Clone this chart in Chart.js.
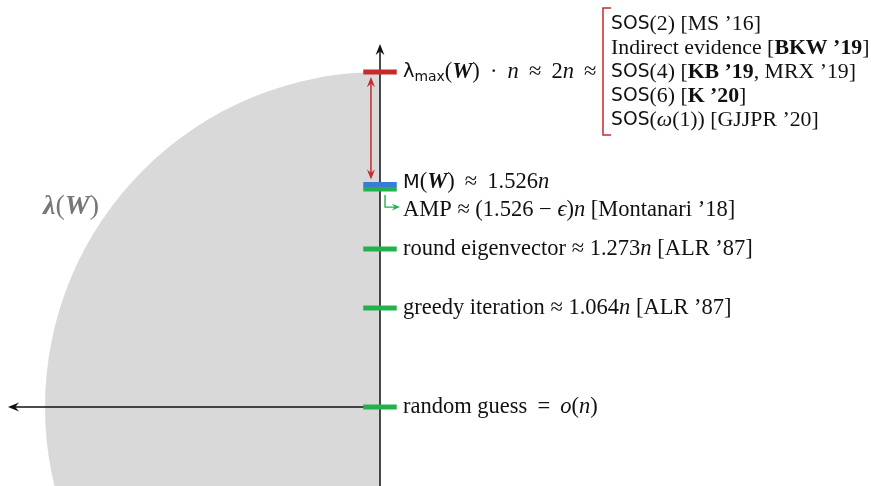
<!DOCTYPE html>
<html>
<head>
<meta charset="utf-8">
<script src="https://cdn.jsdelivr.net/npm/chart.js@4.4.1/dist/chart.umd.min.js"></script>
<style>
  body { margin: 0; background: #fff; }
  #wrap { width: 871px; height: 486px; }
</style>
</head>
<body>
<div id="wrap"><canvas id="mcChart" width="871" height="486"></canvas></div>
<script>
// schematic heights of each algorithm / bound on the vertical axis
const markNames = ['lambdaMax', 'M(W)', 'AMP', 'round eigenvector', 'greedy iteration', 'random guess'];
const markLevels = [2.0, 1.328, 1.301, 0.943, 0.591, 0.0];
const markColors = ['#c62a2a', '#3a7bd5', '#22b14c', '#22b14c', '#22b14c', '#22b14c'];

// semicircle law: spectrum support (left half is drawn)
const diskCenter = [0, 0];
const diskRadius = 2.0;

const TS = '\u2009'; // thin space, for math spacing

const sosLines = [
    [['SOS', 'sans'], ['(2) [MS \u201916]', 'serif']],
    [['Indirect evidence [', 'serif'], ['BKW \u201919', 'bold'], [']', 'serif']],
    [['SOS', 'sans'], ['(4) [', 'serif'], ['KB \u201919', 'bold'], [', MRX \u201919]', 'serif']],
    [['SOS', 'sans'], ['(6) [', 'serif'], ['K \u201920', 'bold'], [']', 'serif']],
    [['SOS', 'sans'], ['(', 'serif'], ['\u03c9', 'ital'], ['(1)) [GJJPR \u201920]', 'serif']]
];

const markLabels = [
    [['\u03bb', 'sans'], ['max', 'sub', 5], ['(', 'serif'], ['W', 'bi'], [')' + TS + ' \u00b7 ' + TS, 'serif'], ['n', 'ital'], [TS + ' \u2248 ' + TS + '2', 'serif'], ['n', 'ital'], [TS + ' \u2248', 'serif']],
    [['M', 'sans'], ['(', 'serif'], ['W', 'bi'], [')' + TS + ' \u2248 ' + TS + '1.526', 'serif'], ['n', 'ital']],
    [['AMP \u2248 (1.526 \u2212 ', 'serif'], ['\u03f5', 'ital'], [')', 'serif'], ['n', 'ital'], [' [Montanari \u201918]', 'serif']],
    [['round eigenvector \u2248 1.273', 'serif'], ['n', 'ital'], [' [ALR \u201987]', 'serif']],
    [['greedy iteration \u2248 1.064', 'serif'], ['n', 'ital'], [' [ALR \u201987]', 'serif']],
    [['random guess' + TS + ' = ' + TS, 'serif'], ['o', 'ital'], ['(', 'serif'], ['n', 'ital'], [')', 'serif']]
];

const markHalf = 0.1;

function fontFor(kind, size) {
    switch (kind) {
        case 'ital': return 'italic ' + size + 'px "Liberation Serif"';
        case 'bold': return 'bold ' + size + 'px "Liberation Serif"';
        case 'bi': return 'bold italic ' + size + 'px "Liberation Serif"';
        case 'sans': return (size * 0.86) + 'px "DejaVu Sans"';
        case 'sub': return (size * 0.62) + 'px "DejaVu Sans"';
        default: return size + 'px "Liberation Serif"';
    }
}

function drawRich(ctx, x, y, segs, size, color) {
    ctx.save();
    ctx.textBaseline = 'middle';
    ctx.textAlign = 'left';
    ctx.fillStyle = color || '#111';
    segs.forEach(s => {
        ctx.font = fontFor(s[1], size);
        ctx.fillText(s[0], x, y + (s[2] || 0));
        x += ctx.measureText(s[0]).width;
    });
    ctx.restore();
    return x;
}

function arrowHead(ctx, x, y, ang, size) {
    ctx.beginPath();
    ctx.moveTo(x, y);
    ctx.lineTo(x - size * Math.cos(ang - 0.38), y - size * Math.sin(ang - 0.38));
    ctx.lineTo(x - size * 0.6 * Math.cos(ang), y - size * 0.6 * Math.sin(ang));
    ctx.lineTo(x - size * Math.cos(ang + 0.38), y - size * Math.sin(ang + 0.38));
    ctx.closePath();
    ctx.fill();
}

const diagramPlugin = {
    id: 'diagram',
    beforeDatasetsDraw(chart) {
        const ctx = chart.ctx;
        const xs = chart.scales.x, ys = chart.scales.y;
        const cx = xs.getPixelForValue(diskCenter[0]);
        const cy = ys.getPixelForValue(diskCenter[1]);
        const r = xs.getPixelForValue(diskRadius) - cx;
        ctx.save();
        ctx.fillStyle = '#d9d9d9';
        ctx.beginPath();
        ctx.moveTo(cx, cy);
        ctx.arc(cx, cy, r, Math.PI / 2, Math.PI * 1.5);
        ctx.closePath();
        ctx.fill();
        ctx.restore();

        // axes
        const ox = xs.getPixelForValue(0), oy = ys.getPixelForValue(0);
        const topY = ys.getPixelForValue(2.167);
        const leftX = xs.getPixelForValue(-2.221);
        ctx.save();
        ctx.strokeStyle = '#111';
        ctx.fillStyle = '#111';
        ctx.lineWidth = 1.5;
        ctx.beginPath();
        ctx.moveTo(ox, chart.height);
        ctx.lineTo(ox, topY + 4);
        ctx.moveTo(ox, oy);
        ctx.lineTo(leftX + 4, oy);
        ctx.stroke();
        arrowHead(ctx, ox, topY, -Math.PI / 2, 12);
        arrowHead(ctx, leftX, oy, Math.PI, 12);
        ctx.restore();
    },
    afterDatasetsDraw(chart) {
        const ctx = chart.ctx;
        const xs = chart.scales.x, ys = chart.scales.y;
        const ox = xs.getPixelForValue(0);

        // red gap arrow between lambda_max and M(W)
        const ax = xs.getPixelForValue(-0.054);
        const a1 = ys.getPixelForValue(markLevels[0]) + 5;
        const a2 = ys.getPixelForValue(markLevels[1]) - 5;
        ctx.save();
        ctx.strokeStyle = '#c62a2a';
        ctx.fillStyle = '#c62a2a';
        ctx.lineWidth = 1.5;
        ctx.beginPath();
        ctx.moveTo(ax, a1 + 5);
        ctx.lineTo(ax, a2 - 5);
        ctx.stroke();
        arrowHead(ctx, ax, a1, -Math.PI / 2, 11);
        arrowHead(ctx, ax, a2, Math.PI / 2, 11);
        ctx.restore();

        // green elbow arrow to AMP
        const gx = xs.getPixelForValue(0.03);
        const gy1 = ys.getPixelForValue(markLevels[2]) + 6;
        const gy2 = gy1 + 12;
        const gx2 = xs.getPixelForValue(0.12);
        ctx.save();
        ctx.strokeStyle = '#22b14c';
        ctx.fillStyle = '#22b14c';
        ctx.lineWidth = 1.4;
        ctx.beginPath();
        ctx.moveTo(gx, gy1);
        ctx.lineTo(gx, gy2);
        ctx.lineTo(gx2 - 4, gy2);
        ctx.stroke();
        arrowHead(ctx, gx2, gy2, 0, 9);
        ctx.restore();

        // labels
        const tx = ox + 23;
        const offs = [0, -2, 21, 0, 0, 0];
        markLabels.forEach((segs, i) => {
            drawRich(ctx, tx, ys.getPixelForValue(markLevels[i]) + offs[i], segs, 22.5);
        });

        // lambda(W) label
        drawRich(ctx, 43, 207, [['\u03bb', 'bi'], ['(', 'serif'], ['W', 'bi'], [')', 'serif']], 28, '#777');

        // bracket with SOS results
        const bx = 603, bTop = 8, bBot = 135;
        ctx.save();
        ctx.strokeStyle = '#c62a2a';
        ctx.lineWidth = 1.5;
        ctx.beginPath();
        ctx.moveTo(bx + 8, bTop);
        ctx.lineTo(bx, bTop);
        ctx.lineTo(bx, bBot);
        ctx.lineTo(bx + 8, bBot);
        ctx.stroke();
        ctx.restore();
        sosLines.forEach((segs, i) => {
            drawRich(ctx, 611, 24 + i * 24, segs, 21.8);
        });
    }
};

const datasets = markLevels.map((lv, i) => ({
    label: markNames[i],
    data: [{ x: -markHalf, y: lv }, { x: markHalf, y: lv }],
    borderColor: markColors[i],
    borderWidth: 5,
    pointRadius: 0,
    showLine: true,
    borderCapStyle: 'butt'
}));

new Chart(document.getElementById('mcChart').getContext('2d'), {
    type: 'scatter',
    data: { datasets: datasets },
    options: {
        responsive: false,
        animation: false,
        layout: { padding: 0 },
        scales: {
            x: { type: 'linear', min: -2.2687, max: 2.9313, display: false },
            y: { type: 'linear', min: -0.4716, max: 2.4299, display: false }
        },
        plugins: {
            legend: { display: false },
            tooltip: { enabled: false }
        }
    },
    plugins: [diagramPlugin]
});
</script>
</body>
</html>
